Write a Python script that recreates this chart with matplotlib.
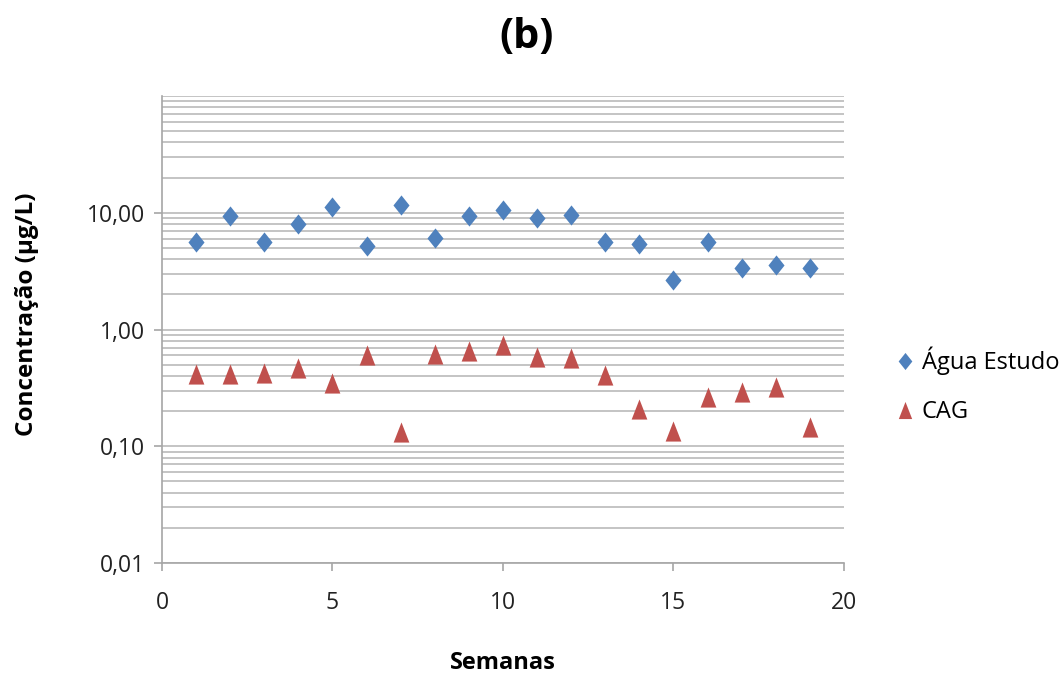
import matplotlib.pyplot as plt
from matplotlib.ticker import FixedLocator, LogLocator, NullFormatter

semanas = list(range(1, 20))
agua_estudo = [5.6, 9.35, 5.65, 8.05, 11.2, 5.15, 11.6, 6.05, 9.3, 10.6,
               9.05, 9.55, 5.65, 5.45, 2.65, 5.65, 3.35, 3.55, 3.35]
cag = [0.415, 0.415, 0.42, 0.47, 0.35, 0.605, 0.132, 0.62, 0.655, 0.74,
       0.585, 0.565, 0.405, 0.207, 0.135, 0.263, 0.289, 0.322, 0.147]

y_ticks = [0.01, 0.1, 1, 10]
y_tick_labels = ['0,01', '0,10', '1,00', '10,00']
x_ticks = [0, 5, 10, 15, 20]

blue = '#4F81BD'
red = '#C0504D'
grid_color = '#BFBFBF'
axis_color = '#A6A6A6'

plt.rcParams['font.family'] = ['Open Sans', 'DejaVu Sans']

diamond = [(0, 1), (0.8, 0), (0, -1), (-0.8, 0), (0, 1)]
triangle = [(-0.78, -1), (0.78, -1), (0, 1), (-0.78, -1)]

fig = plt.figure(figsize=(10.6, 6.73), dpi=100)
ax = fig.add_axes([0.1528, 0.1634, 0.6434, 0.694])

ax.plot(semanas, agua_estudo, linestyle='none', marker=diamond, markersize=14.5,
        color=blue, markeredgewidth=0, label='Água Estudo', zorder=3)
ax.plot(semanas, cag, linestyle='none', marker=triangle, markersize=14.5,
        color=red, markeredgewidth=0, label='CAG', zorder=3)

ax.set_yscale('log')
ax.set_ylim(0.01, 100)
ax.set_xlim(0, 20)
ax.yaxis.set_major_locator(FixedLocator(y_ticks))
ax.set_yticklabels(y_tick_labels)
ax.yaxis.set_minor_locator(LogLocator(base=10, subs=range(2, 10)))
ax.yaxis.set_minor_formatter(NullFormatter())
ax.set_xticks(x_ticks)

# horizontal gridlines, major and minor, plus top line at 100
ax.grid(True, axis='y', which='both', color=grid_color, linewidth=1.3, zorder=0)
ax.axhline(100, color=grid_color, linewidth=1.3, zorder=0)
ax.set_axisbelow(True)

for side in ['top', 'right']:
    ax.spines[side].set_visible(False)
for side in ['left', 'bottom']:
    ax.spines[side].set_color(axis_color)
    ax.spines[side].set_linewidth(1.2)

ax.tick_params(axis='both', which='major', direction='out', length=6,
               color=axis_color, width=1.2, labelsize=16.5, labelcolor='#222222')
ax.tick_params(axis='y', which='major', pad=6)
ax.tick_params(axis='x', which='major', pad=14)
ax.tick_params(axis='y', which='minor', length=0)

ax.set_ylabel('Concentração (µg/L)', fontsize=17.5, fontweight='bold')
ax.yaxis.set_label_coords(-0.18, 0.533)
ax.set_xlabel('Semanas', fontsize=17, fontweight='bold', labelpad=26)
fig.text(0.497, 0.945, '(b)', fontsize=30, fontweight='bold', ha='center', va='center')

ax.legend(loc='center left', bbox_to_anchor=(1.045, 0.38), frameon=False,
          fontsize=17, handlelength=0.8, handletextpad=0.3, labelspacing=1.05,
          markerscale=0.85)

fig.savefig('out.png', dpi=100)
